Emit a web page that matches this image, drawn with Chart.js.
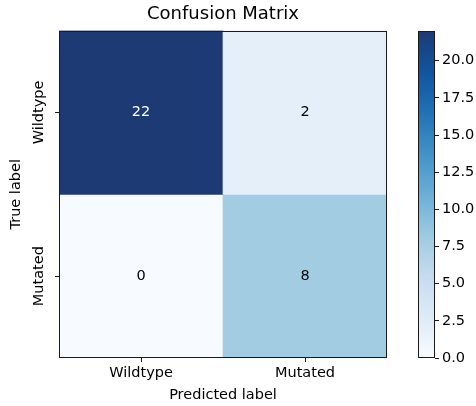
<!DOCTYPE html>
<html>
<head>
<meta charset="utf-8">
<script src="https://cdn.jsdelivr.net/npm/chart.js@4/dist/chart.umd.min.js"></script>
<style>
  html, body { margin: 0; padding: 0; background: #ffffff; }
  #wrap { position: relative; width: 476px; height: 406px; overflow: hidden; }
  #matrix { position: absolute; left: 0; top: 0; }
  #colorbar { position: absolute; left: 400px; top: 0; }
</style>
</head>
<body>
<div id="wrap">
  <canvas id="matrix" width="476" height="406"></canvas>
  <canvas id="colorbar" width="76" height="406"></canvas>
</div>
<script>
// Class names (used for both predicted and true axes)
const classes = ['Wildtype', 'Mutated'];
// Rows: true label; columns: predicted label
const trueWildtype = [22, 2];
const trueMutated = [0, 8];
const matrix = [trueWildtype, trueMutated];
// Colour scale range and colour bar ticks
const vmin = 0;
const vmax = 22;
const colorbarTicks = [0, 2.5, 5, 7.5, 10, 12.5, 15, 17.5, 20];

const FONT = 'DejaVu Sans';
const FS = 14.5;

// Sequential blue colour map
const blueStops = [
  [0.000, [247, 251, 255]],
  [0.125, [222, 235, 247]],
  [0.250, [198, 219, 239]],
  [0.375, [158, 202, 225]],
  [0.500, [107, 174, 214]],
  [0.625, [66, 146, 198]],
  [0.750, [33, 113, 181]],
  [0.875, [16, 84, 158]],
  [1.000, [30, 58, 116]]
];
function blues(t) {
  t = Math.max(0, Math.min(1, t));
  for (let i = 1; i < blueStops.length; i++) {
    const [t1, c1] = blueStops[i];
    const [t0, c0] = blueStops[i - 1];
    if (t <= t1) {
      const f = (t - t0) / (t1 - t0);
      const c = c0.map((v, k) => Math.round(v + (c1[k] - v) * f));
      return `rgb(${c[0]},${c[1]},${c[2]})`;
    }
  }
  const c = blueStops[blueStops.length - 1][1];
  return `rgb(${c[0]},${c[1]},${c[2]})`;
}

// Thin dark frame around the plotting area
const frame = {
  id: 'frame',
  afterDatasetsDraw(chart) {
    const { ctx, chartArea: a } = chart;
    ctx.save();
    ctx.strokeStyle = '#1a1a1a';
    ctx.lineWidth = 1;
    ctx.strokeRect(Math.round(a.left) + 0.5, Math.round(a.top) + 0.5,
                   Math.round(a.right - a.left) - 1, Math.round(a.bottom - a.top) - 1);
    ctx.restore();
  }
};

// Cell counts and rotated row labels
const annotate = {
  id: 'annotate',
  afterDraw(chart) {
    const { ctx } = chart;
    const xs = chart.scales.x, ys = chart.scales.y;
    const thresh = vmax / 2;
    ctx.save();
    ctx.font = `${FS}px "${FONT}"`;
    ctx.textAlign = 'center';
    ctx.textBaseline = 'middle';
    matrix.forEach((row, r) => {
      row.forEach((v, c) => {
        ctx.fillStyle = v > thresh ? '#ffffff' : '#000000';
        ctx.fillText(String(v), xs.getPixelForValue(c), ys.getPixelForValue(r));
      });
    });
    ctx.fillStyle = '#000000';
    classes.forEach((name, r) => {
      ctx.save();
      ctx.translate(39, ys.getPixelForValue(r));
      ctx.rotate(-Math.PI / 2);
      ctx.fillText(name, 0, 0);
      ctx.restore();
    });
    ctx.restore();
  }
};

const rowDatasets = matrix.map((row, r) => ({
  label: classes[r],
  data: row.map(() => [r - 0.5, r + 0.5]),
  backgroundColor: row.map(v => blues((v - vmin) / (vmax - vmin))),
  borderWidth: 0,
  barPercentage: 1,
  categoryPercentage: 1,
  grouped: false
}));

new Chart(document.getElementById('matrix'), {
  type: 'bar',
  data: { labels: classes, datasets: rowDatasets },
  options: {
    responsive: false,
    animation: false,
    layout: { padding: { left: 0, right: 89, top: 0, bottom: 0 } },
    plugins: {
      legend: { display: false },
      tooltip: { enabled: false },
      title: {
        display: true,
        text: 'Confusion Matrix',
        fullSize: false,
        color: '#000',
        font: { family: FONT, size: 18, weight: 'normal' },
        padding: { top: 4, bottom: 5 }
      }
    },
    scales: {
      x: {
        type: 'category',
        grid: { offset: false, drawOnChartArea: false, drawTicks: true, tickLength: 4, color: '#1a1a1a' },
        border: { display: false },
        ticks: { color: '#000', font: { family: FONT, size: FS }, padding: 3, maxRotation: 0 },
        title: {
          display: true, text: 'Predicted label', color: '#000',
          font: { family: FONT, size: FS }, padding: { top: 0, bottom: 2 }
        },
        afterFit(s) { s.height = 48; }
      },
      y: {
        type: 'linear',
        min: -0.5,
        max: 1.5,
        reverse: true,
        afterBuildTicks(s) { s.ticks = classes.map((_, i) => ({ value: i })); },
        grid: { drawOnChartArea: false, drawTicks: true, tickLength: 4, color: '#1a1a1a' },
        border: { display: false },
        ticks: { display: false },
        title: {
          display: true, text: 'True label', color: '#000',
          font: { family: FONT, size: FS }, padding: { top: 8, bottom: 0 }
        },
        afterFit(s) { s.width = 59; }
      }
    }
  },
  plugins: [annotate, frame]
});

// Colour bar: one floating bar spanning the value range, filled with the colour map
function colorbarFill(context) {
  const area = context.chart.chartArea;
  if (!area) return blues(0.5);
  const g = context.chart.ctx.createLinearGradient(0, area.bottom, 0, area.top);
  for (let i = 0; i <= 40; i++) g.addColorStop(i / 40, blues(i / 40));
  return g;
}

new Chart(document.getElementById('colorbar'), {
  type: 'bar',
  data: {
    labels: [''],
    datasets: [{
      data: [[vmin, vmax]],
      backgroundColor: colorbarFill,
      borderWidth: 0,
      barPercentage: 1,
      categoryPercentage: 1
    }]
  },
  options: {
    responsive: false,
    animation: false,
    layout: { padding: { left: 18, right: 0, top: 31, bottom: 48 } },
    plugins: { legend: { display: false }, tooltip: { enabled: false } },
    scales: {
      x: { display: false },
      y: {
        type: 'linear',
        position: 'right',
        min: vmin,
        max: vmax,
        afterBuildTicks(s) { s.ticks = colorbarTicks.map(v => ({ value: v })); },
        grid: { drawOnChartArea: false, drawTicks: true, tickLength: 4, color: '#1a1a1a' },
        border: { display: false },
        ticks: {
          color: '#000', padding: 3,
          font: { family: FONT, size: FS },
          callback: v => Number(v).toFixed(1)
        },
        afterFit(s) { s.width = 41; }
      }
    }
  },
  plugins: [frame]
});
</script>
</body>
</html>
